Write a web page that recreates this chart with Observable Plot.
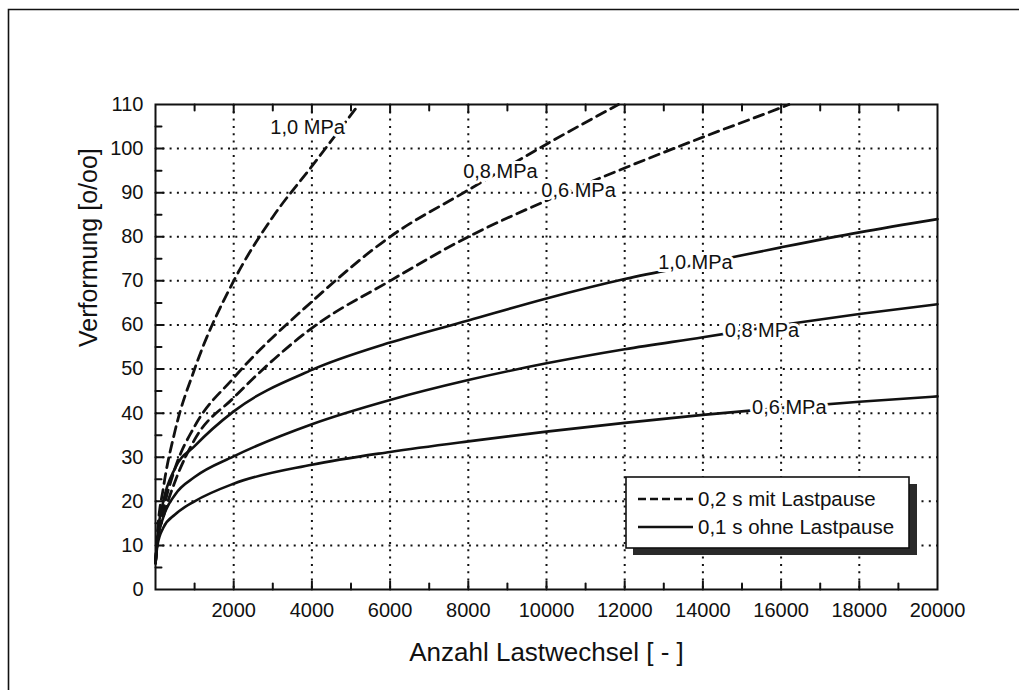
<!DOCTYPE html>
<html>
<head>
<meta charset="utf-8">
<script src="https://cdn.jsdelivr.net/npm/d3@7"></script>
<script src="https://cdn.jsdelivr.net/npm/@observablehq/plot@0.6"></script>
<style>
  html, body { margin: 0; padding: 0; background: #fff; }
  #chart { width: 1019px; height: 690px; }
</style>
</head>
<body>
<div id="chart"></div>
<script>
// Verformung über Anzahl Lastwechsel, je Belastung (MPa) und Belastungsart
const solidCycles = [0, 50, 200, 500, 1000, 2000, 4000, 6000, 8000, 10000, 12000, 14000, 16000, 18000, 20000];
const solid10 = [6, 12, 20, 27.5, 32.5, 40.4, 49.8, 56, 61, 66, 70.4, 74, 77.6, 81, 84];
const solid08 = [6, 11, 16.4, 21.5, 25.5, 30.2, 37.5, 43, 47.5, 51.3, 54.5, 57.2, 60, 62.5, 64.7];
const solid06 = [6, 10, 14, 17, 20, 24, 28.3, 31.2, 33.6, 35.8, 37.8, 39.6, 41.2, 42.6, 43.8];

const dashed10Cycles = [0, 50, 200, 500, 1000, 2000, 3000, 4000, 5200];
const dashed10 = [6, 13, 23, 36, 50, 70, 84.5, 96, 110];
const dashed08Cycles = [0, 50, 200, 500, 1000, 2000, 4000, 6000, 8000, 10000, 11840];
const dashed08 = [6, 11, 18, 27.5, 37, 48, 65.3, 80, 90.6, 101, 110];
const dashed06Cycles = [0, 50, 200, 500, 1000, 2000, 4000, 6000, 8000, 10000, 12000, 14000, 16000, 16200];
const dashed06 = [6, 11, 16.5, 24.5, 34, 43.5, 59.3, 70, 80, 88.2, 95.6, 102.6, 109.3, 110];

// Kurvenbeschriftungen
const curveLabels = ["1,0 MPa", "0,8 MPa", "0,6 MPa", "1,0 MPa", "0,8 MPa", "0,6 MPa"];
const labelCycles = [3890, 8820, 10820, 13810, 15510, 16210];
const labelValues = [104.7, 94.7, 90.4, 74.2, 58.8, 41.3];

// Achsen
const xTickLabels = [2000, 4000, 6000, 8000, 10000, 12000, 14000, 16000, 18000, 20000];
const xGrid = [2000, 4000, 6000, 8000, 10000, 12000, 14000, 16000, 18000];
const xMinor = [1000, 3000, 5000, 7000, 9000, 11000, 13000, 15000, 17000, 19000];
const yTickLabels = [0, 10, 20, 30, 40, 50, 60, 70, 80, 90, 100, 110];
const yGrid = [10, 20, 30, 40, 50, 60, 70, 80, 90, 100];
const yMinor = [5, 15, 25, 35, 45, 55, 65, 75, 85, 95, 105];

const xTitle = "Anzahl Lastwechsel [ - ]";
const yTitle = "Verformung [o/oo]";
const legendItems = ["0,2 s mit Lastpause", "0,1 s ohne Lastpause"];

const toRows = (xs, ys, series) => xs.map((x, i) => ({cycles: x, value: ys[i], series}));
const solidRows = [
  ...toRows(solidCycles, solid10, "1,0"),
  ...toRows(solidCycles, solid08, "0,8"),
  ...toRows(solidCycles, solid06, "0,6")
];
const dashedRows = [
  ...toRows(dashed10Cycles, dashed10, "1,0"),
  ...toRows(dashed08Cycles, dashed08, "0,8"),
  ...toRows(dashed06Cycles, dashed06, "0,6")
];
const labelRows = curveLabels.map((t, i) => ({text: t, cycles: labelCycles[i], value: labelValues[i]}));

// kurze Striche nach innen
const tickShape = {draw(ctx, l) { ctx.moveTo(0, 0); ctx.lineTo(0, -l); }};
const ink = "#111";
const font = "'Liberation Sans', Arial, Helvetica, sans-serif";
const plain = d => String(d);

const plot = Plot.plot({
  width: 1019,
  height: 690,
  marginLeft: 155,
  marginRight: 82,
  marginTop: 104,
  marginBottom: 101,
  style: {fontFamily: font, fontSize: "20px", color: ink, background: "#fff"},
  x: {domain: [0, 20000], label: null},
  y: {domain: [0, 110], label: null},
  marks: [
    Plot.gridX(xGrid, {stroke: ink, strokeOpacity: 1, strokeWidth: 2, strokeDasharray: "2 5.3"}),
    Plot.gridY(yGrid, {stroke: ink, strokeOpacity: 1, strokeWidth: 2, strokeDasharray: "2 5.3"}),
    Plot.vector(xGrid, {x: d => d, y: () => 0, length: 8, anchor: "start", rotate: 0, shape: tickShape, stroke: ink, strokeWidth: 2}),
    Plot.vector(xMinor, {x: d => d, y: () => 0, length: 6, anchor: "start", rotate: 0, shape: tickShape, stroke: ink, strokeWidth: 2}),
    Plot.vector(xGrid, {x: d => d, y: () => 110, length: 8, anchor: "start", rotate: 180, shape: tickShape, stroke: ink, strokeWidth: 2}),
    Plot.vector(xMinor, {x: d => d, y: () => 110, length: 6, anchor: "start", rotate: 180, shape: tickShape, stroke: ink, strokeWidth: 2}),
    Plot.vector(yGrid, {x: () => 0, y: d => d, length: 8, anchor: "start", rotate: 90, shape: tickShape, stroke: ink, strokeWidth: 2}),
    Plot.vector(yMinor, {x: () => 0, y: d => d, length: 6, anchor: "start", rotate: 90, shape: tickShape, stroke: ink, strokeWidth: 2}),
    Plot.line(solidRows, {x: "cycles", y: "value", z: "series", curve: "monotone-x", stroke: ink, strokeWidth: 2.6}),
    Plot.line(dashedRows, {x: "cycles", y: "value", z: "series", curve: "monotone-x", stroke: ink, strokeWidth: 2.8, strokeDasharray: "10 6"}),
    Plot.text(labelRows, {x: "cycles", y: "value", text: "text", fill: ink, stroke: "#fff", strokeWidth: 6, fontSize: 20, textAnchor: "middle", lineAnchor: "middle"}),
    Plot.frame({stroke: ink, strokeWidth: 2}),
    Plot.axisX(xTickLabels, {tickSize: 0, tickPadding: 13, fontSize: 20, fill: ink, tickFormat: plain, label: null}),
    Plot.axisY(yTickLabels, {tickSize: 0, tickPadding: 12, fontSize: 20, fill: ink, tickFormat: plain, label: null}),
    Plot.text([xTitle], {frameAnchor: "bottom", dy: 63, fontSize: 26, fill: ink, lineAnchor: "middle"}),
    Plot.text([yTitle], {frameAnchor: "left", dx: -67, rotate: -90, fontSize: 25, fill: ink, lineAnchor: "middle"})
  ]
});

document.getElementById("chart").append(plot);

// Rahmen und Legende
const svg = d3.select(plot);
svg.append("path")
  .attr("d", "M8.5,690V9.5H1019")
  .attr("fill", "none").attr("stroke", ink).attr("stroke-width", 1.6);

const lg = svg.append("g").attr("font-family", font).attr("font-size", 20.5).attr("text-anchor", "start");
lg.append("rect").attr("x", 633).attr("y", 484).attr("width", 284).attr("height", 71).attr("fill", "#2a2a2a");
lg.append("rect").attr("x", 626).attr("y", 477).attr("width", 283).attr("height", 71)
  .attr("fill", "#fff").attr("stroke", ink).attr("stroke-width", 1.6);
legendItems.forEach((t, i) => {
  const yy = 499 + i * 28;
  lg.append("line").attr("x1", 638).attr("x2", 693).attr("y1", yy).attr("y2", yy)
    .attr("stroke", ink).attr("stroke-width", 2.4)
    .attr("stroke-dasharray", i === 0 ? "8 4" : null);
  lg.append("text").attr("x", 698).attr("y", yy).attr("dy", "0.35em")
    .attr("text-anchor", "start").attr("fill", ink).text(t);
});
</script>
</body>
</html>
